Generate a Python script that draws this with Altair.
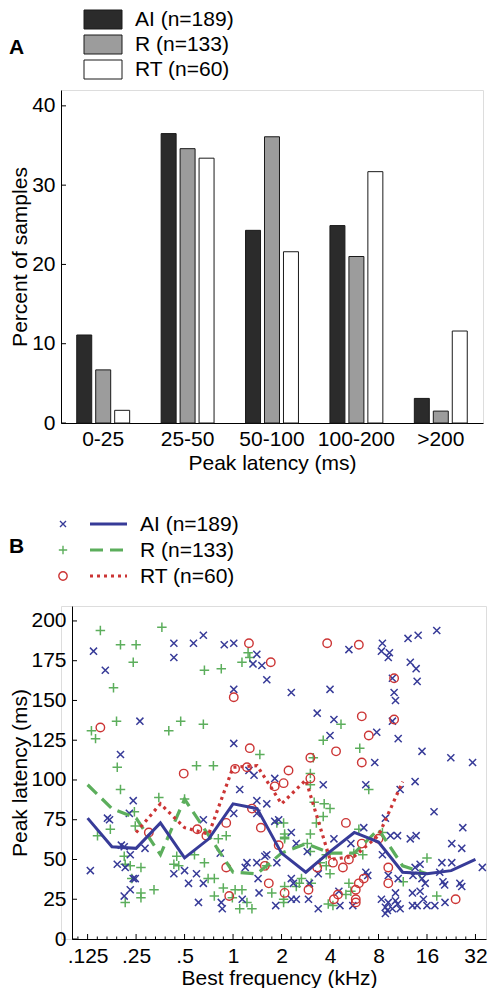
import altair as alt
import pandas as pd

FONT = "Liberation Sans"
BLUE = "#373b98"
GREEN = "#5cae5c"
RED = "#cc3535"

# ---------------- Panel A data ----------------
categories = ["0-25", "25-50", "50-100", "100-200", ">200"]
series = ["AI (n=189)", "R (n=133)", "RT (n=60)"]
ai_pct = [11.1, 36.5, 24.3, 24.9, 3.1]
r_pct = [6.7, 34.6, 36.1, 21.0, 1.5]
rt_pct = [1.6, 33.4, 21.6, 31.7, 11.6]
bar_fills = ["#2b2b2b", "#9c9c9c", "#ffffff"]
a_ticks = [0, 10, 20, 30, 40]

# ---------------- Panel B data ----------------
ai_freq = [0.136, 0.161, 0.429, 0.429, 0.568, 0.654, 0.882, 1.01, 1.405, 1.33, 1.51, 1.62, 1.01, 0.264, 1.01, 0.2,
           5.24, 8.46, 8.34, 9.35, 9.2, 12.2, 14.1, 18.4, 12.6, 13.7, 13.9, 9.76, 2.3, 4.0, 10.0, 10.2, 3.33, 4.23,
           9.76, 4.0, 7.8, 10.6, 14.9, 22.5, 30.7, 7.58, 0.13, 0.166, 0.171, 0.24, 0.227, 0.2025, 0.211, 0.23, 0.191,
           0.214, 0.24, 0.247, 0.23, 0.211, 0.284, 0.429, 0.5, 0.529, 0.593, 0.654, 0.61, 0.654, 0.833, 0.845, 0.857,
           1.10, 1.01, 1.255, 1.35, 1.405, 1.62, 1.405, 1.815, 1.22, 1.19, 1.43, 1.45, 1.14, 1.575, 1.62, 1.815, 1.92,
           1.87, 1.84, 1.405, 3.63, 6.67, 10.9, 13.5, 17.7, 26.7, 8.83, 6.48, 4.23, 5.39, 2.3, 2.47, 2.89, 8.46, 9.49,
           10.5, 12.6, 13.7, 22.8, 26.3, 6.67, 6.86, 3.38, 2.3, 2.37, 2.98, 2.94, 2.47, 2.3, 3.38, 4.61, 4.54, 5.54,
           9.2, 10.6, 13.5, 14.5, 13.1, 14.9, 15.6, 14.5, 13.0, 19.8, 22.8, 19.2, 20.1, 20.6, 25.6, 26.3, 35.3, 10.2,
           10.2, 8.34, 9.2, 10.5, 8.83, 9.09, 8.83, 9.76, 10.9, 13.0, 13.9, 15.2, 16.0, 17.9, 20.7]
ai_lat = [181, 169, 186, 177, 186, 191, 185, 186, 179, 173, 172, 163, 157, 137, 123, 116,
          182, 186, 181, 180, 177, 189, 191, 194, 174, 170, 162, 164, 155, 157, 155, 150, 142, 138,
          137, 128, 130, 126, 118, 114, 111, 111, 43, 76, 75, 87, 79, 59, 58, 53, 47,
          45, 38, 38, 31, 27, 57, 41, 43, 35, 41, 35, 23, 75, 54, 23, 19,
          94, 79, 106, 103, 87, 85, 79, 101, 48, 45, 38, 29, 25, 52, 53, 74, 75,
          48, 21, 48, 97, 97, 94, 99, 80, 70, 76, 70, 63, 60, 67, 60, 55, 53, 65,
          65, 63, 65, 60, 57, 42, 40, 41, 38, 35, 35, 25, 25, 25, 19, 21, 30, 21,
          40, 38, 45, 47, 40, 38, 35, 30, 29, 48, 48, 42, 36, 34, 35, 33, 45, 29,
          24, 25, 23, 22, 20, 18, 16, 19, 19, 21, 21, 25, 21, 21, 23]

r_freq = [0.15, 0.3615, 0.2, 0.25, 0.24, 0.181, 0.664, 0.845, 1.136, 1.24, 1.27, 0.189, 0.132, 0.14, 0.399, 0.473,
          0.654, 1.467, 0.191, 0.593, 0.755, 4.68, 3.63, 6.12, 3.15, 0.2, 0.346, 0.244, 0.247, 0.144, 0.173, 0.211,
          0.214, 0.23, 0.268, 0.235, 0.268, 0.268, 0.323, 0.214, 0.447, 0.429, 0.46, 0.576, 0.664, 0.70, 0.765, 0.87,
          0.765, 0.907, 0.81, 1.03, 1.136, 0.99, 1.10, 1.31, 1.22, 1.62, 1.74, 2.06, 1.87, 0.5, 2.09, 3.02, 3.02,
          6.96, 3.68, 4.0, 3.63, 3.29, 3.19, 2.06, 2.09, 2.09, 3.02, 2.89, 3.02, 3.79, 3.48, 3.79, 4.0, 3.06, 2.58,
          2.66, 2.47, 2.09, 2.06, 3.9, 4.17, 5.24, 5.39, 5.02, 6.04, 5.62, 6.39, 8.46, 16.0, 11.4, 18.4, 14.5]
r_lat = [194, 196, 185, 185, 174, 158, 169, 170, 174, 180, 177, 137, 131, 126, 131, 137,
         135, 116, 108, 109, 109, 135, 125, 120, 114, 94, 89, 80, 71, 65, 69, 52,
         47, 46, 45, 38, 29, 26, 31, 23, 52, 47, 46, 53, 48, 38, 38, 32,
         27, 65, 63, 31, 31, 26, 19, 19, 23, 46, 29, 23, 73, 88, 64, 104, 97,
         94, 85, 82, 77, 73, 86, 73, 66, 63, 66, 60, 55, 53, 48, 46, 41, 35, 35,
         38, 33, 33, 25, 22, 21, 35, 30, 28, 69, 54, 53, 67, 51, 36, 27, 41]

rt_freq = [1.255, 1.715, 1.01, 0.15, 1.27, 3.84, 6.04, 10.0, 10.0, 6.3, 6.96, 4.36, 3.02, 6.3, 2.21, 0.494, 1.03,
           1.22, 1.815, 2.06, 1.31, 1.488, 1.92, 0.907, 0.30, 0.60, 0.683, 0.907, 1.575, 1.667, 0.947, 2.09, 3.02,
           5.02, 6.3, 4.17, 4.81, 5.24, 3.33, 9.2, 9.2, 6.48, 6.04, 5.78, 4.48, 4.23, 5.78, 5.78, 2.94, 24.1, 8.0]
rt_lat = [186, 174, 152, 133, 120, 186, 185, 164, 138, 140, 128, 118, 114, 111, 106, 104, 107,
          108, 96, 98, 82, 70, 59, 73, 67, 69, 65, 45, 46, 35, 27, 29, 101,
          73, 60, 48, 45, 50, 45, 45, 35, 38, 35, 31, 28, 25, 25, 23, 31, 25, 63]

ai_line_freq = [0.125, 0.177, 0.25, 0.354, 0.5, 0.707, 1, 1.41, 2, 2.83, 4, 5.66, 8, 11.3, 16, 22.6, 32]
ai_line_lat = [76, 58, 57, 73, 51, 63, 85, 82, 54, 42, 55, 67, 61, 42, 41, 43, 50]
r_line_freq = [0.125, 0.177, 0.25, 0.354, 0.5, 0.707, 1, 1.41, 2, 2.83, 4, 5.66, 8, 11.3, 16]
r_line_lat = [97, 82, 76, 53, 88, 65, 42, 41, 54, 60, 54, 54, 69, 46, 41]
rt_line_freq = [0.25, 0.354, 0.5, 0.707, 1, 1.41, 2, 2.83, 4, 5.66, 8, 11.3]
rt_line_lat = [67, 85, 70, 66, 108, 109, 85, 100, 50, 52, 65, 99]

b_xticks = [0.125, 0.25, 0.5, 1, 2, 4, 8, 16, 32]
b_minor = [0.125 * 2 ** (k / 5) for k in range(-1, 41) if k % 5 != 0]
b_yticks = [0, 25, 50, 75, 100, 125, 150, 175, 200]

# ---------------- geometry ----------------
WA, HA = 422, 333
WB, HB = 425, 333
LAB = 21
TIT = 21
PAD_L, PAD_T = 53, 82
SVG_W, SVG_H = 480, 980


def one(label):
    return pd.DataFrame({"t": [label]})


axis_common = dict(labelFont=FONT, titleFont=FONT, labelFontSize=LAB, titleFontSize=TIT,
                   labelColor="black", titleColor="black", titleFontWeight="normal",
                   domainColor="black", domainWidth=1, ticks=False, tickSize=0, grid=False)

# ---------------- Panel A ----------------
rows = []
for s, vals in zip(series, [ai_pct, r_pct, rt_pct]):
    for c, v in zip(categories, vals):
        rows.append({"cat": c, "series": s, "pct": v})
bars_df = pd.DataFrame(rows)

ya = alt.Scale(domain=[0, 42], nice=False, zero=True)
y_axis_a = alt.Axis(title="Percent of samples", values=a_ticks, labelPadding=6, titlePadding=1, **axis_common)
bars = alt.Chart(bars_df).mark_bar(stroke="#1a1a1a", strokeWidth=1).encode(
    x=alt.X("cat:N", sort=categories, scale=alt.Scale(paddingInner=0, paddingOuter=0),
            axis=alt.Axis(title="Peak latency (ms)", labelAngle=0, labelPadding=5, titlePadding=3,
                          **axis_common)),
    xOffset=alt.XOffset("series:N", sort=series, scale=alt.Scale(paddingInner=0.21, paddingOuter=0.83)),
    y=alt.Y("pct:Q", scale=ya, axis=y_axis_a),
    fill=alt.Fill("series:N", scale=alt.Scale(domain=series, range=bar_fills), legend=None),
)
a_tick_rules = alt.Chart(pd.DataFrame({"pct": a_ticks})).mark_rule(color="black", strokeWidth=1).encode(
    y=alt.Y("pct:Q", scale=ya, axis=y_axis_a),
    x=alt.value(0), x2=alt.value(5))

a_layers = [bars, a_tick_rules]
for i, (lab, col) in enumerate(zip(series, bar_fills)):
    top = -80 + 25 * i
    a_layers.append(alt.Chart(one(lab)).mark_rect(fill=col, stroke="#1a1a1a", strokeWidth=1).encode(
        x=alt.value(23), x2=alt.value(61), y=alt.value(top), y2=alt.value(top + 19)))
    a_layers.append(alt.Chart(one(lab)).mark_text(align="left", baseline="middle", font=FONT,
                                                  fontSize=LAB, color="black").encode(
        x=alt.value(74), y=alt.value(top + 10), text="t:N"))
a_layers.append(alt.Chart(one("A")).mark_text(align="left", baseline="middle", font=FONT, fontSize=21,
                                              fontWeight="bold", color="black").encode(
    x=alt.value(-52), y=alt.value(-42), text="t:N"))

panel_a = alt.layer(*a_layers).properties(width=WA, height=HA)

# ---------------- Panel B ----------------
xs = alt.Scale(type="log", domain=[0.1, 37.2], range=[11, WB])
ys = alt.Scale(domain=[0, 209.4], nice=False, zero=False)

x_axis_b = alt.Axis(title="Best frequency (kHz)", values=b_xticks,
                    labelExpr="replace('' + datum.value, '0.', '.')",
                    labelPadding=6, titlePadding=1, **axis_common)
y_axis_b = alt.Axis(title="Peak latency (ms)", values=b_yticks, offset=-11, labelPadding=6,
                    titlePadding=0, **axis_common)


def xenc(field):
    return alt.X(f"{field}:Q", scale=xs, axis=x_axis_b)


def yenc(field):
    return alt.Y(f"{field}:Q", scale=ys, axis=y_axis_b)


XPATH = "M-1,-1L1,1M-1,1L1,-1"
PPATH = "M-1,0L1,0M0,-1L0,1"

ai_pts = alt.Chart(pd.DataFrame({"f": ai_freq, "l": ai_lat})).mark_point(
    shape=XPATH, size=50, filled=False, color=BLUE, strokeWidth=1.5, opacity=1).encode(
    x=xenc("f"), y=yenc("l"))
r_pts = alt.Chart(pd.DataFrame({"f": r_freq, "l": r_lat})).mark_point(
    shape=PPATH, size=90, filled=False, color=GREEN, strokeWidth=1.5, opacity=1).encode(
    x=xenc("f"), y=yenc("l"))
rt_pts = alt.Chart(pd.DataFrame({"f": rt_freq, "l": rt_lat})).mark_point(
    shape="circle", size=72, filled=False, color=RED, strokeWidth=1.4, opacity=1).encode(
    x=xenc("f"), y=yenc("l"))

ai_ln = alt.Chart(pd.DataFrame({"f": ai_line_freq, "l": ai_line_lat})).mark_line(
    color=BLUE, strokeWidth=3).encode(x=xenc("f"), y=yenc("l"), order="f:Q")
r_ln = alt.Chart(pd.DataFrame({"f": r_line_freq, "l": r_line_lat})).mark_line(
    color=GREEN, strokeWidth=3.2, strokeDash=[13, 7]).encode(x=xenc("f"), y=yenc("l"), order="f:Q")
rt_ln = alt.Chart(pd.DataFrame({"f": rt_line_freq, "l": rt_line_lat})).mark_line(
    color=RED, strokeWidth=3.2, strokeDash=[3, 4]).encode(x=xenc("f"), y=yenc("l"), order="f:Q")

bx_major = alt.Chart(pd.DataFrame({"f": b_xticks})).mark_rule(color="black").encode(
    x=xenc("f"), y=alt.value(HB), y2=alt.value(HB - 5))
bx_minor = alt.Chart(pd.DataFrame({"f": b_minor})).mark_rule(color="black").encode(
    x=xenc("f"), y=alt.value(HB), y2=alt.value(HB - 2.5))
by_major = alt.Chart(pd.DataFrame({"l": b_yticks})).mark_rule(color="black").encode(
    y=yenc("l"), x=alt.value(11), x2=alt.value(16))

b_layers = [bx_minor, bx_major, by_major, r_pts, ai_pts, rt_pts, r_ln, rt_ln, ai_ln]

leg_rows = [("AI (n=189)", BLUE, XPATH, 36, None, 3),
            ("R (n=133)", GREEN, PPATH, 70, [13, 7], 3.2),
            ("RT (n=60)", RED, "circle", 70, [3, 4], 3.2)]
for i, (lab, col, shp, sz, dash, sw) in enumerate(leg_rows):
    yy = -82 + 26 * i
    b_layers.append(alt.Chart(one(lab)).mark_point(shape=shp, size=sz, filled=False, color=col,
                                                   strokeWidth=1.4, opacity=1).encode(
        x=alt.value(2), y=alt.value(yy)))
    rule = alt.Chart(one(lab)).mark_rule(color=col, strokeWidth=sw, **({} if dash is None else {"strokeDash": dash}))
    b_layers.append(rule.encode(x=alt.value(29), x2=alt.value(66), y=alt.value(yy)))
    b_layers.append(alt.Chart(one(lab)).mark_text(align="left", baseline="middle", font=FONT,
                                                  fontSize=LAB, color="black").encode(
        x=alt.value(79), y=alt.value(yy + 1), text="t:N"))
b_layers.append(alt.Chart(one("B")).mark_text(align="left", baseline="middle", font=FONT, fontSize=21,
                                              fontWeight="bold", color="black").encode(
    x=alt.value(-52), y=alt.value(-59), text="t:N"))

panel_b = alt.layer(*b_layers).properties(width=WB, height=HB)

chart = alt.vconcat(panel_a, panel_b, spacing=183, bounds="flush").properties(
    autosize=alt.AutoSizeParams(type="none"),
    padding={"left": PAD_L, "top": PAD_T, "right": SVG_W - PAD_L, "bottom": SVG_H - PAD_T},
).configure_view(stroke=None).configure(background="white")

chart.save("out.html", embed_options={"renderer": "svg", "actions": False})
